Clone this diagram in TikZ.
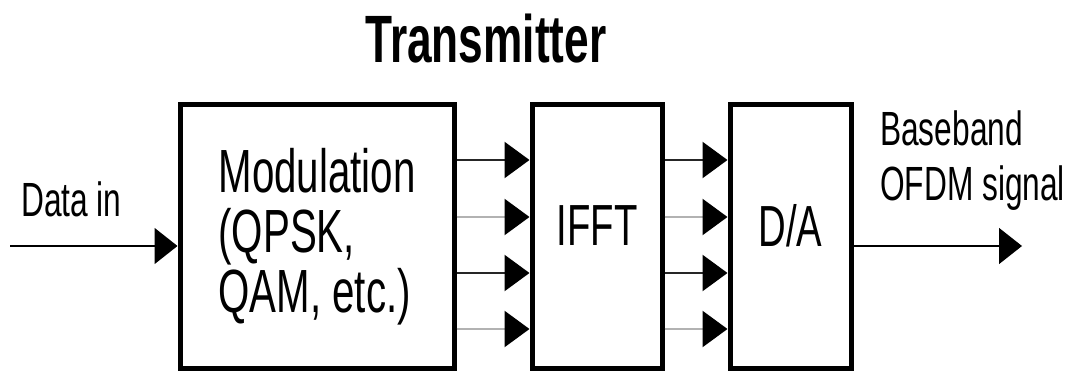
\documentclass[tikz,border=0pt]{standalone}
\usepackage{fontspec}
\usepackage{tikz}
\usetikzlibrary{arrows.meta, positioning}
\newfontfamily\narrowsf[FakeStretch=0.66]{Liberation Sans}
\tikzset{
    block/.style={rectangle, draw=black, line width=5pt, inner sep=0pt, font=\narrowsf\fontsize{58}{60}\selectfont},
    sigtext/.style={inner sep=0pt, font=\narrowsf\fontsize{48}{55}\selectfont},
    sigarrow/.style={line width=1.5pt, -{Triangle[length=23pt, width=36pt]}},
    chanarrow/.style={line width=2.5pt, -{Triangle[length=25pt, width=36pt, color=black]}}
}

\begin{document}
\begin{tikzpicture}[x=1pt, y=1pt]
    \clip (0,0) rectangle (1077,370);
    \fill[white] (0,0) rectangle (1077,370);

    % Title
    \node[inner sep=0pt, anchor=base, font=\narrowsf\bfseries\fontsize{67}{70}\selectfont] (title) at (486,307) {Transmitter};

    % Blocks
    \node[block, minimum width=274pt, minimum height=263pt, align=left, font=\narrowsf\fontsize{61}{60}\selectfont] (mod) at (317,133.5) {Modulation\\(QPSK,\\QAM, etc.)};
    \node[block, minimum width=130pt, minimum height=263pt, text depth=22pt] (ifft) at (597,133.5) {IFFT};
    \node[block, minimum width=121pt, minimum height=263pt, text depth=22pt] (da) at (790.5,133.5) {D/A};

    % Input and output
    \coordinate (src) at (10,124);
    \coordinate (sink) at (1022,124);
    \node[sigtext, anchor=base west] (datain) at (21,153) {Data in};
    \node[sigtext, anchor=north west, align=left] (ofdm) at (880,259) {Baseband\\OFDM signal};
    \draw[sigarrow] (src) -- (src -| mod.west);
    \draw[sigarrow] (da.east |- sink) -- (sink);

    % Parallel streams
    \foreach \y/\c in {210/black!85, 153/black!30, 97/black!85, 41/black!30} {
        \draw[chanarrow, draw=\c] (mod.east |- 0,\y) -- (ifft.west |- 0,\y);
        \draw[chanarrow, draw=\c] (ifft.east |- 0,\y) -- (da.west |- 0,\y);
    }
\end{tikzpicture}
\end{document}
